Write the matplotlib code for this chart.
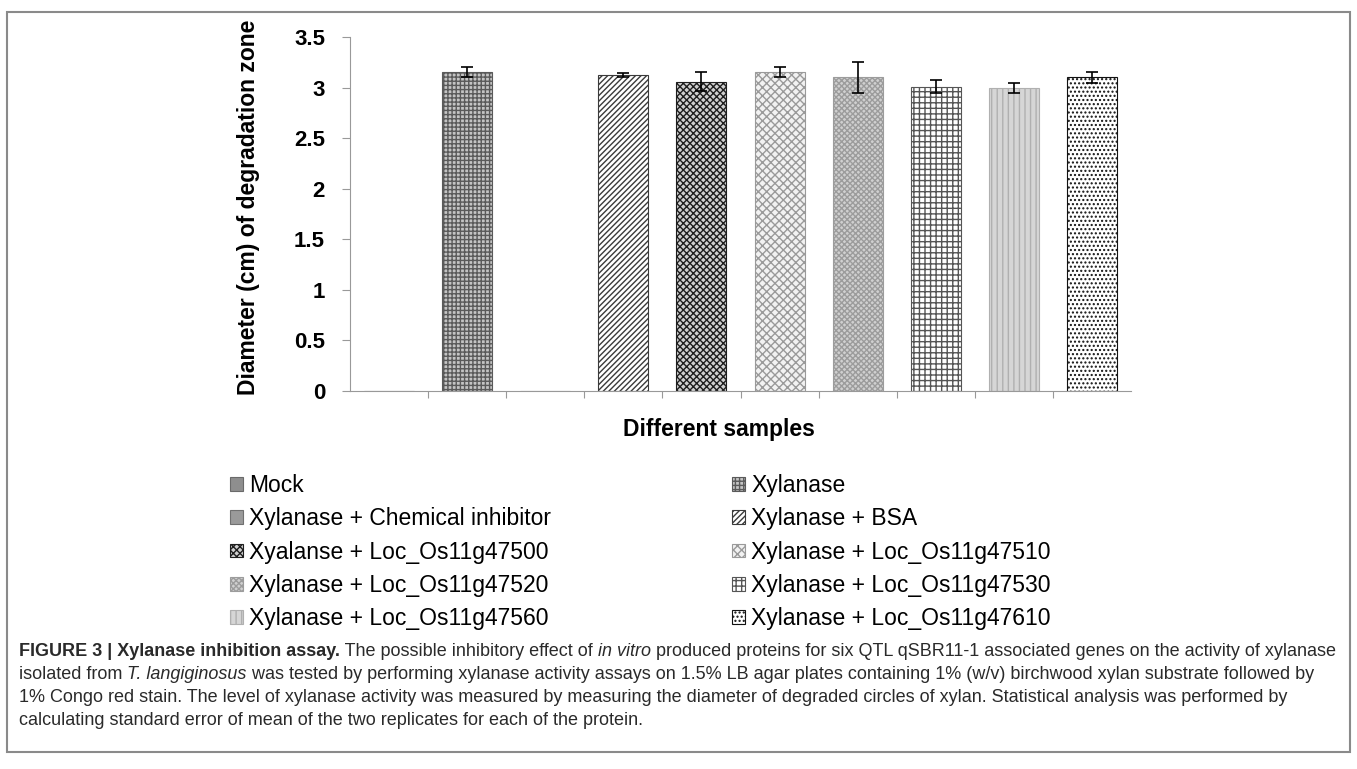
import numpy as np
import matplotlib
matplotlib.use("Agg")
import matplotlib.pyplot as plt
from matplotlib.patches import Rectangle

# Data
samples = ["Mock", "Xylanase", "Xylanase + Chemical inhibitor", "Xylanase + BSA",
           "Xyalanse + Loc_Os11g47500", "Xylanase + Loc_Os11g47510",
           "Xylanase + Loc_Os11g47520", "Xylanase + Loc_Os11g47530",
           "Xylanase + Loc_Os11g47560", "Xylanase + Loc_Os11g47610"]
diameter = [0.0, 3.15, 0.0, 3.12, 3.06, 3.15, 3.10, 3.01, 3.00, 3.10]
sem = [0.0, 0.05, 0.0, 0.02, 0.09, 0.05, 0.15, 0.06, 0.05, 0.05]
yticks = [0, 0.5, 1, 1.5, 2, 2.5, 3, 3.5]

# fill style per sample (face, hatch colour, hatch)
styles = [
    ("#8e8e8e", "#6a6a6a", ""),
    ("#c4c4c4", "#5a5a5a", "++++"),
    ("#9a9a9a", "#707070", ""),
    ("#ffffff", "#3a3a3a", "//////"),
    ("#d0d0d0", "#1e1e1e", "xxxxx"),
    ("#f2f2f2", "#9a9a9a", "xxxx"),
    ("#d0d0d0", "#9c9c9c", "xxxxxx"),
    ("#ffffff", "#555555", "+++"),
    ("#d6d6d6", "#b0b0b0", "|||"),
    ("#ffffff", "#111111", "...."),
]

plt.rcParams["font.family"] = ["Liberation Sans", "DejaVu Sans"]
plt.rcParams["hatch.linewidth"] = 1.0

W, H = 1357, 769
fig = plt.figure(figsize=(W / 100, H / 100), dpi=100)
ax = fig.add_axes([350 / W, 1 - 391 / H, 781 / W, 354 / H])

x = np.arange(len(samples))
bars = []
for i in range(len(samples)):
    fc, hc, hatch = styles[i]
    b = ax.bar(x[i], diameter[i], width=0.64, color=fc, edgecolor=hc,
               hatch=hatch, linewidth=0.8, label=samples[i])
    bars.append(b)
has_err = [1, 3, 4, 5, 6, 7, 8, 9]
ax.errorbar(x[has_err], np.array(diameter)[has_err],
            yerr=np.array(sem)[has_err], fmt="none",
            ecolor="black", elinewidth=1.2, capsize=4, capthick=1.2)

ax.set_xlim(-0.5, len(samples) - 0.5)
ax.set_ylim(0, 3.5)
ax.set_yticks(yticks)
ax.set_yticklabels([f"{v:g}" for v in yticks], fontsize=16, fontweight="bold")
ax.set_xticks((x[:-1] + 0.5))
ax.set_xticklabels([])
ax.tick_params(axis="y", length=6, pad=12, color="#999999")
ax.tick_params(axis="x", length=5, color="#999999")
for s in ["top", "right"]:
    ax.spines[s].set_visible(False)
for s in ["left", "bottom"]:
    ax.spines[s].set_color("#999999")

ax.set_ylabel("Diameter (cm) of degradation zone", fontsize=16.5, fontweight="bold")
ax.yaxis.set_label_coords(-0.115, 0.52)
ax.set_xlabel("Different samples", fontsize=16.5, fontweight="bold")
ax.xaxis.set_label_coords((719 - 350) / 781, -0.075)

# legend: two columns, row-major order
handles = [b.patches[0] for b in bars]
col1 = [0, 2, 4, 6, 8]
col2 = [1, 3, 5, 7, 9]
for col, x0 in [(col1, 230), (col2, 732)]:
    fig.legend([handles[i] for i in col], [samples[i] for i in col],
               loc="upper left", bbox_to_anchor=(x0 / W, 1 - 474 / H),
               frameon=False, fontsize=16.5, handlelength=0.55, handleheight=0.55,
               handletextpad=0.3, labelspacing=0.45, borderpad=0, borderaxespad=0)

# frame around the whole figure
fig.patches.append(Rectangle((7 / W, 1 - 752 / H), 1343 / W, 740 / H,
                             transform=fig.transFigure, fill=False,
                             edgecolor="#8a8a8a", linewidth=1.5))

# caption, built piece by piece
cap_font = ["Liberation Sans Narrow", "Liberation Sans", "DejaVu Sans"]
caption = [
    [("FIGURE 3 | Xylanase inhibition assay.", "bold", "normal"),
     (" The possible inhibitory effect of ", "normal", "normal"),
     ("in vitro", "normal", "italic"),
     (" produced proteins for six QTL qSBR11-1 associated genes on the activity of xylanase",
      "normal", "normal")],
    [("isolated from ", "normal", "normal"),
     ("T. langiginosus", "normal", "italic"),
     (" was tested by performing xylanase activity assays on 1.5% LB agar plates containing "
      "1% (w/v) birchwood xylan substrate followed by", "normal", "normal")],
    [("1% Congo red stain. The level of xylanase activity was measured by measuring the diameter "
      "of degraded circles of xylan. Statistical analysis was performed by", "normal", "normal")],
    [("calculating standard error of mean of the two replicates for each of the protein.",
      "normal", "normal")],
]
renderer = fig.canvas.get_renderer()


def draw_line(parts, y, size):
    xpos = 19 / W
    texts = []
    for s, weight, style in parts:
        t = fig.text(xpos, y, s, fontsize=size, fontweight=weight, fontstyle=style,
                     family=cap_font, va="baseline", ha="left", color="#2a2a2a")
        bb = t.get_window_extent(renderer)
        xpos = bb.x1 / W
        texts.append(t)
    return texts, xpos * W


# fit first line to its width in the reference
trial, right = draw_line(caption[0], 0.5, 10)
for t in trial:
    t.remove()
size = 10 * (1338 - 19) / (right - 19)

for k, parts in enumerate(caption):
    draw_line(parts, 1 - (656 + 23 * k) / H, size)

fig.savefig("out.png", dpi=100)
